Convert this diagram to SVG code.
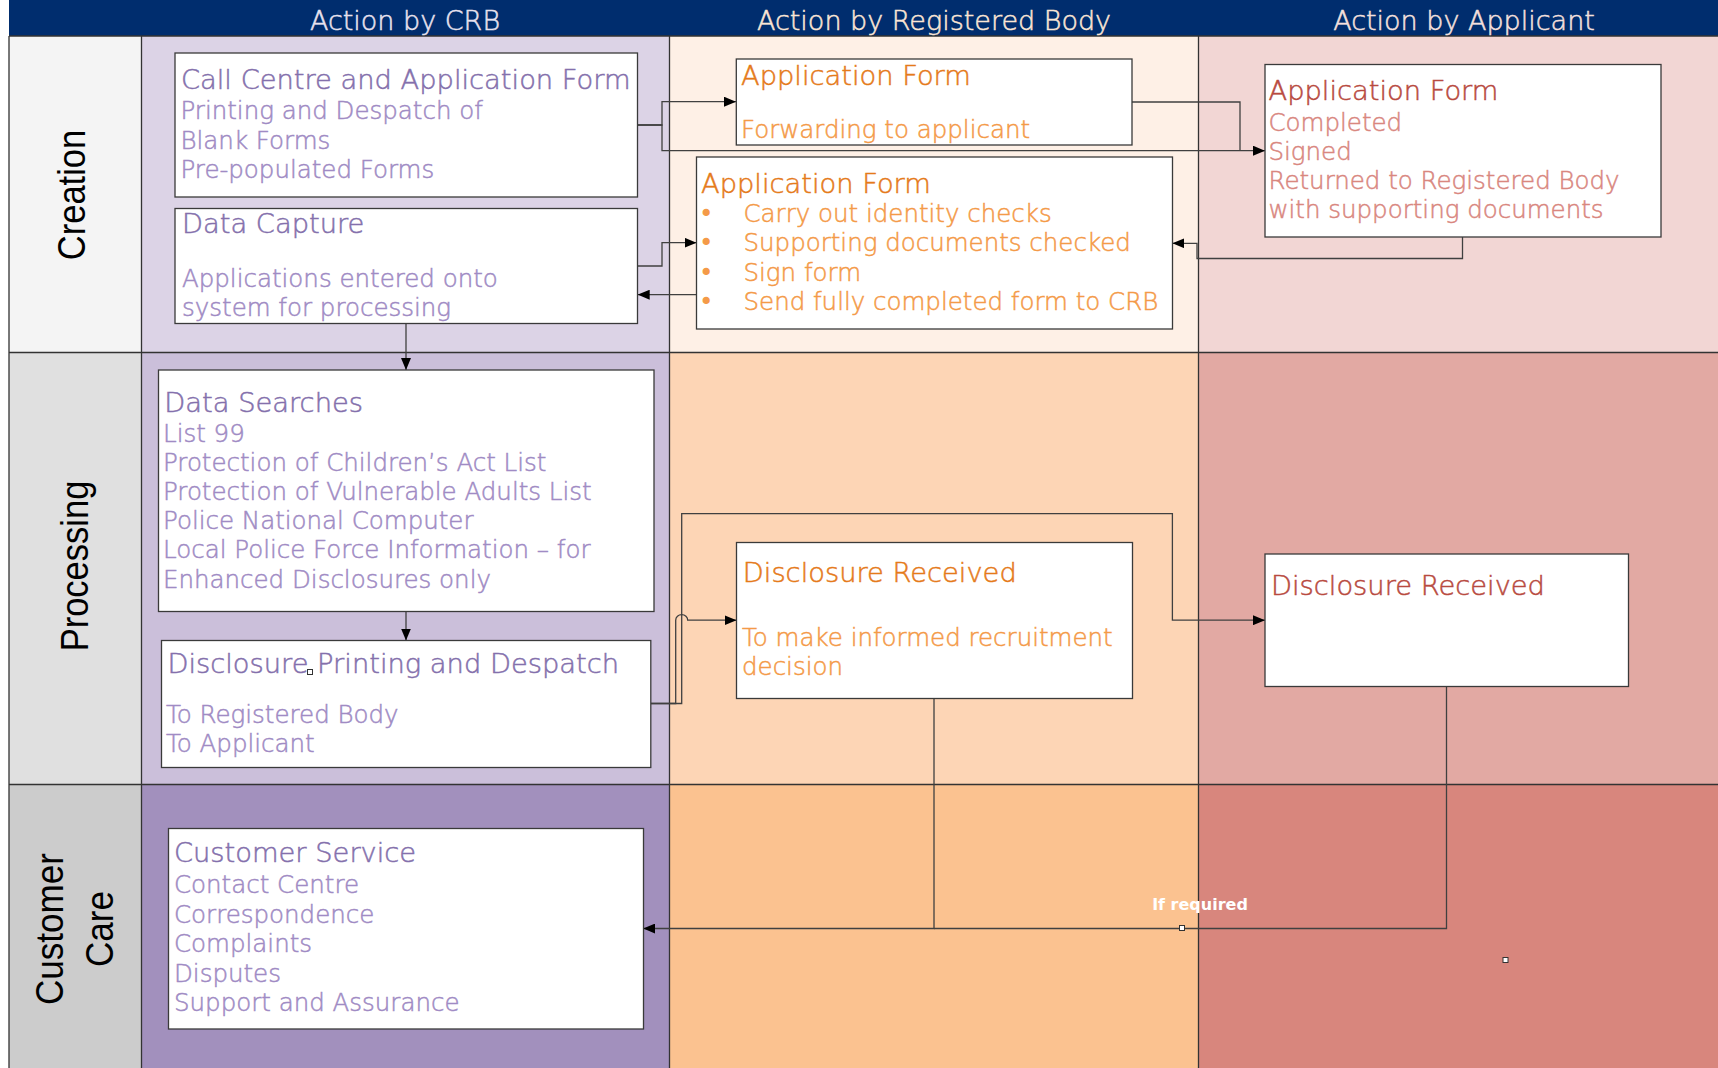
<svg xmlns="http://www.w3.org/2000/svg" width="1718" height="1068" viewBox="0 0 1718 1068">
<defs>
<marker id="arr" viewBox="0 0 12 10" refX="12" refY="5" markerWidth="12" markerHeight="10" markerUnits="userSpaceOnUse" orient="auto"><path d="M0,0 L12,5 L0,10 z" fill="#000"/></marker>
<style>
.grid{stroke:#333;stroke-width:1.3;fill:none}
.box{fill:#fff;stroke:#3a3a3a;stroke-width:1.3}
.t{font-family:"DejaVu Sans","Liberation Sans",sans-serif;font-weight:200;stroke-width:0.5}
.ti{font-size:27.3px}
.sub{font-size:24.5px}
.bul{font-family:"DejaVu Sans","Liberation Sans",sans-serif;font-size:24.5px;fill:#f49a48}
.hd{font-family:"DejaVu Sans","Liberation Sans",sans-serif;font-weight:200;font-size:27px;text-anchor:middle;stroke-width:0.5}
.row{font-family:"Liberation Sans",Arial,sans-serif;font-size:39px;fill:#000;text-anchor:middle}
.crbT{fill:#8470ac;stroke:#8470ac}.crbS{fill:#a08bc4;stroke:#a08bc4}
.rbT{fill:#e57a1a;stroke:#e57a1a}.rbS{fill:#f49a48;stroke:#f49a48}
.apT{fill:#b84a40;stroke:#b84a40}.apS{fill:#d9877f;stroke:#d9877f}
.con{fill:none;stroke:#404040;stroke-width:1.3}
.arrow{marker-end:url(#arr)}
.hnd{fill:#fff;stroke:#333;stroke-width:1}
</style>
</defs>
<rect width="1718" height="1068" fill="#fff"/>
<g id="lanes">
<rect x="9" y="0" width="1709" height="36" fill="#002d6e"/>
<rect x="9" y="36" width="132.5" height="316.5" fill="#f4f4f4"/>
<rect x="9" y="352.5" width="132.5" height="432" fill="#e0e0e0"/>
<rect x="9" y="784.5" width="132.5" height="283.5" fill="#cccccc"/>
<rect x="141.5" y="36" width="528" height="316.5" fill="#dcd3e6"/>
<rect x="141.5" y="352.5" width="528" height="432" fill="#cbbfda"/>
<rect x="141.5" y="784.5" width="528" height="283.5" fill="#a290bd"/>
<rect x="669.5" y="36" width="529" height="316.5" fill="#fef0e6"/>
<rect x="669.5" y="352.5" width="529" height="432" fill="#fdd5b5"/>
<rect x="669.5" y="784.5" width="529" height="283.5" fill="#fbc290"/>
<rect x="1198.5" y="36" width="519.5" height="316.5" fill="#f2d6d4"/>
<rect x="1198.5" y="352.5" width="519.5" height="432" fill="#e2a9a3"/>
<rect x="1198.5" y="784.5" width="519.5" height="283.5" fill="#d8867d"/>
<path class="grid" d="M9,36 H1718 M9,352.5 H1718 M9,784.5 H1718 M9,36 V1068 M141.5,36 V1068 M669.5,36 V1068 M1198.5,36 V1068"/>
<text class="hd" x="405" y="29.5" fill="#e8e2ee" stroke="#e8e2ee">Action by CRB</text>
<text class="hd" x="934" y="29.5" fill="#fbe6d5" stroke="#fbe6d5">Action by Registered Body</text>
<text class="hd" x="1464" y="29.5" fill="#f5e0de" stroke="#f5e0de">Action by Applicant</text>
<text class="row" transform="translate(85,195) rotate(-90) scale(0.885,1)">Creation</text>
<text class="row" transform="translate(88,566) rotate(-90) scale(0.885,1)">Processing</text>
<text class="row" transform="translate(63,929) rotate(-90) scale(0.9,1)">Customer</text>
<text class="row" transform="translate(113,929) rotate(-90) scale(0.9,1)">Care</text>
</g>
<g id="connectors">
<path class="con arrow" d="M637.7,125 H662 V101.7 H736"/>
<path class="con arrow" d="M637.7,125 H662 V150.7 H1265"/>
<path class="con" d="M1132,102 H1240 V150.7"/>
<path class="con arrow" d="M637.7,266 H662 V242.7 H696.5"/>
<path class="con arrow" d="M696.5,294.7 H637.7"/>
<path class="con arrow" d="M1462.5,237 V258.5 H1197 V243.3 H1172.4"/>
<path class="con arrow" d="M406,323.5 V370"/>
<path class="con arrow" d="M406,611.5 V640.5"/>
<path class="con arrow" d="M650.8,703.5 H681.7 V513.7 H1172.4 V620.2 H1265"/>
<path class="con arrow" d="M650.8,703.5 H675.7 V620.2 A6,5.5 0 0 1 687.7,620.2 H736.5"/>
<path class="con arrow" d="M934,698.5 V928.5 H643.2"/>
<path class="con" d="M1446.5,686.5 V928.5 H934"/>
<text x="1200" y="910" text-anchor="middle" font-family="DejaVu Sans, Liberation Sans, sans-serif" font-weight="bold" font-size="16" fill="#fff">If required</text>
<rect class="hnd" x="1179.5" y="925.5" width="5" height="5"/>
</g>
<g id="node-call-centre">
<rect class="box" x="175" y="53" width="462.5" height="144"/>
<text class="t ti crbT" x="181" y="89">Call Centre and Application Form</text>
<text class="t sub crbS" x="180.5" y="119.3">Printing and Despatch of</text>
<text class="t sub crbS" x="180.5" y="149">Blank Forms</text>
<text class="t sub crbS" x="180.5" y="178.3">Pre-populated Forms</text>
</g>
<g id="node-data-capture">
<rect class="box" x="175" y="208.5" width="462.5" height="115"/>
<text class="t ti crbT" x="182" y="233">Data Capture</text>
<text class="t sub crbS" x="182" y="287.3">Applications entered onto</text>
<text class="t sub crbS" x="182" y="316">system for processing</text>
</g>
<g id="node-rb-forwarding">
<rect class="box" x="736.3" y="59" width="395.7" height="86"/>
<text class="t ti rbT" x="741" y="85">Application Form</text>
<text class="t sub rbS" x="741" y="138">Forwarding to applicant</text>
</g>
<g id="node-rb-checks">
<rect class="box" x="696.5" y="157" width="476" height="172"/>
<text class="t ti rbT" x="701" y="192.7">Application Form</text>
<text class="bul" x="699" y="221.5">•</text>
<text class="t sub rbS" x="743.5" y="221.5">Carry out identity checks</text>
<text class="bul" x="699" y="251">•</text>
<text class="t sub rbS" x="743.5" y="251">Supporting documents checked</text>
<text class="bul" x="699" y="280.5">•</text>
<text class="t sub rbS" x="743.5" y="280.5">Sign form</text>
<text class="bul" x="699" y="310">•</text>
<text class="t sub rbS" x="743.5" y="310">Send fully completed form to CRB</text>
</g>
<g id="node-applicant-form">
<rect class="box" x="1265" y="64.5" width="396" height="172.5"/>
<text class="t ti apT" x="1268.5" y="100">Application Form</text>
<text class="t sub apS" x="1268.5" y="131">Completed</text>
<text class="t sub apS" x="1268.5" y="160">Signed</text>
<text class="t sub apS" x="1268.5" y="189.3">Returned to Registered Body</text>
<text class="t sub apS" x="1268.5" y="218.3">with supporting documents</text>
</g>
<g id="node-data-searches">
<rect class="box" x="158.5" y="370" width="495.5" height="241.5"/>
<text class="t ti crbT" x="164.3" y="411.7">Data Searches</text>
<text class="t sub crbS" x="163" y="441.7">List 99</text>
<text class="t sub crbS" x="163" y="470.7">Protection of Children’s Act List</text>
<text class="t sub crbS" x="163" y="500">Protection of Vulnerable Adults List</text>
<text class="t sub crbS" x="163" y="529">Police National Computer</text>
<text class="t sub crbS" x="163" y="558.3">Local Police Force Information – for</text>
<text class="t sub crbS" x="163" y="588.3">Enhanced Disclosures only</text>
</g>
<g id="node-disclosure-printing">
<rect class="box" x="161.5" y="640.5" width="489.3" height="127"/>
<text class="t ti crbT" x="167.4" y="672.7">Disclosure Printing and Despatch</text>
<text class="t sub crbS" x="166" y="722.7">To Registered Body</text>
<text class="t sub crbS" x="166" y="751.7">To Applicant</text>
<rect class="hnd" x="307.5" y="669.5" width="5" height="5"/>
</g>
<g id="node-rb-disclosure">
<rect class="box" x="736.5" y="542.5" width="396" height="156"/>
<text class="t ti rbT" x="742.8" y="581.7">Disclosure Received</text>
<text class="t sub rbS" x="742" y="646">To make informed recruitment</text>
<text class="t sub rbS" x="742" y="675">decision</text>
</g>
<g id="node-applicant-disclosure">
<rect class="box" x="1265" y="554" width="363.5" height="132.5"/>
<text class="t ti apT" x="1271" y="595">Disclosure Received</text>
</g>
<g id="node-customer-service">
<rect class="box" x="168.5" y="828.5" width="475" height="200.5"/>
<text class="t ti crbT" x="174" y="862.3">Customer Service</text>
<text class="t sub crbS" x="174" y="893.3">Contact Centre</text>
<text class="t sub crbS" x="174" y="922.5">Correspondence</text>
<text class="t sub crbS" x="174" y="952.3">Complaints</text>
<text class="t sub crbS" x="174" y="981.7">Disputes</text>
<text class="t sub crbS" x="174" y="1010.5">Support and Assurance</text>
</g>
<rect class="hnd" x="1503" y="957.5" width="5" height="5"/>
</svg>
